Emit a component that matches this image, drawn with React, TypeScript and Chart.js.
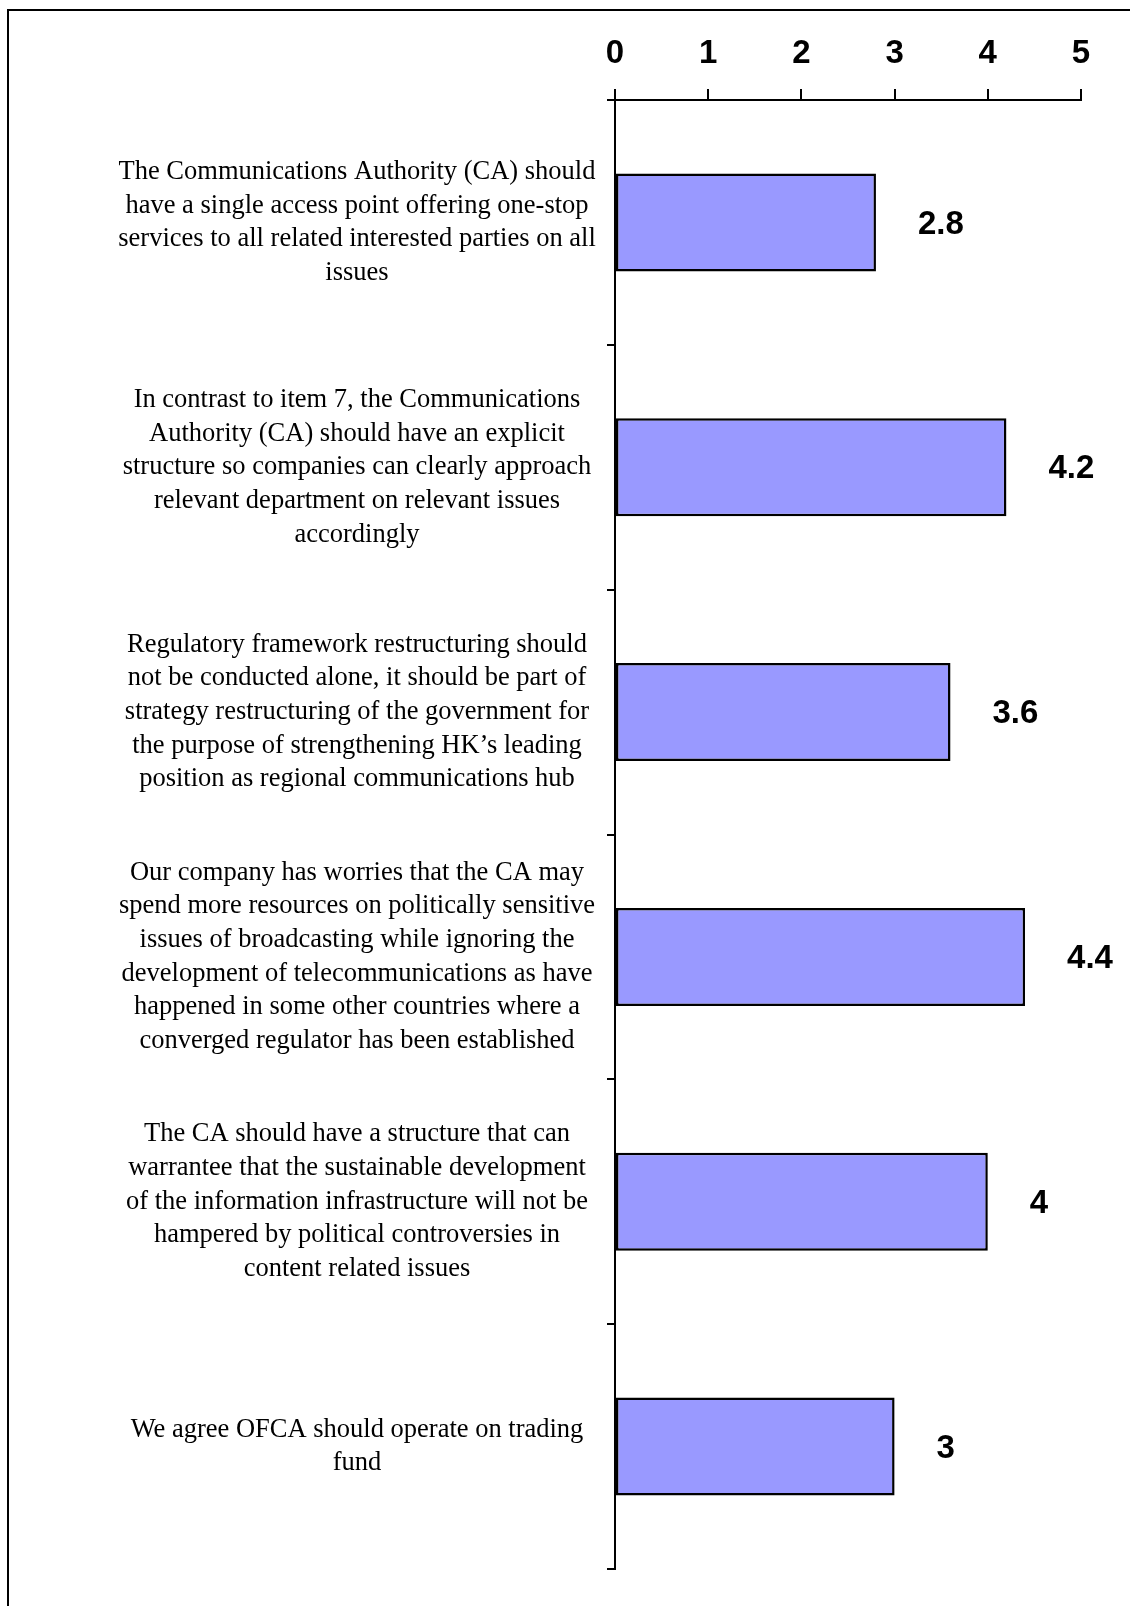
import React, { useEffect, useRef } from "react";
import { Chart, registerables } from "chart.js";

Chart.register(...registerables);

const categories: string[][] = [
  [
    "The Communications Authority (CA) should",
    "have a single access point offering one-stop",
    "services to all related interested parties on all",
    "issues",
  ],
  [
    "In contrast to item 7, the Communications",
    "Authority (CA) should have an explicit",
    "structure so companies can clearly approach",
    "relevant department on relevant issues",
    "accordingly",
  ],
  [
    "Regulatory framework restructuring should",
    "not be conducted alone, it should be part of",
    "strategy restructuring of the government for",
    "the purpose of strengthening HK\u2019s leading",
    "position as regional communications hub",
  ],
  [
    "Our company has worries that the CA may",
    "spend more resources on politically sensitive",
    "issues of broadcasting while ignoring the",
    "development of telecommunications as have",
    "happened in some other countries where a",
    "converged regulator has been established",
  ],
  [
    "The CA should have a structure that can",
    "warrantee that the sustainable development",
    "of the information infrastructure will not be",
    "hampered by political controversies in",
    "content related issues",
  ],
  ["We agree OFCA should operate on trading", "fund"],
];

const values: number[] = [2.8, 4.2, 3.6, 4.4, 4, 3];
const valueLabels: string[] = ["2.8", "4.2", "3.6", "4.4", "4", "3"];
const xMin = 0;
const xMax = 5;
const xStep = 1;

const SERIF = "'Liberation Serif', 'Times New Roman', serif";
const SANS = "'Liberation Sans', Arial, sans-serif";
const CAT_FONT_SIZE = 26.5;
const CAT_LINE_HEIGHT = 1.27;
const AXIS_LEFT = 615;
const LABEL_CENTER = 357;
const Y_TICK_LEN = 8;

export default function App() {
  const canvasRef = useRef<HTMLCanvasElement | null>(null);

  useEffect(() => {
    const canvas = canvasRef.current;
    if (!canvas) return;

    const mctx = document.createElement("canvas").getContext("2d")!;
    mctx.font = `normal ${CAT_FONT_SIZE}px ${SERIF}`;
    let widest = 0;
    categories.forEach((lines) =>
      lines.forEach((l) => {
        widest = Math.max(widest, mctx.measureText(l).width);
      })
    );
    const yPad = Math.max(0, AXIS_LEFT - Y_TICK_LEN - LABEL_CENTER - widest / 2);

    const framePlugin = {
      id: "frame",
      beforeDraw(chart: any) {
        const ctx = chart.ctx;
        ctx.save();
        ctx.fillStyle = "#ffffff";
        ctx.fillRect(0, 0, chart.width, chart.height);
        ctx.strokeStyle = "#000000";
        ctx.lineWidth = 2;
        ctx.strokeRect(8, 10, 3000, 3000);
        ctx.restore();
      },
    };

    const valueLabelPlugin = {
      id: "valueLabels",
      afterDatasetsDraw(chart: any) {
        const ctx = chart.ctx;
        const meta = chart.getDatasetMeta(0);
        ctx.save();
        ctx.font = `bold 33px ${SANS}`;
        ctx.fillStyle = "#000000";
        ctx.textAlign = "left";
        ctx.textBaseline = "middle";
        meta.data.forEach((bar: any, i: number) => {
          ctx.fillText(valueLabels[i], bar.x + 42, bar.y + 2);
        });
        ctx.restore();
      },
    };

    const chart = new Chart(canvas, {
      type: "bar",
      data: {
        labels: categories,
        datasets: [
          {
            data: values,
            backgroundColor: "#9999FF",
            borderColor: "#000000",
            borderWidth: 2.5,
            borderSkipped: false,
            categoryPercentage: 1,
            barPercentage: 0.4,
          },
        ],
      },
      options: {
        indexAxis: "y",
        responsive: false,
        animation: false,
        devicePixelRatio: 1,
        layout: { padding: { left: 0, top: 0, right: 49, bottom: 37 } },
        plugins: {
          legend: { display: false },
          tooltip: { enabled: false },
          title: { display: false },
        },
        scales: {
          x: {
            type: "linear",
            position: "top",
            min: xMin,
            max: xMax,
            ticks: {
              stepSize: xStep,
              color: "#000000",
              padding: 15,
              font: { family: SANS, size: 33, weight: "bold", lineHeight: 1.2 },
            },
            grid: {
              drawOnChartArea: false,
              drawTicks: true,
              tickLength: 11,
              color: "#000000",
              lineWidth: 2,
            },
            border: { display: true, color: "#000000", width: 2 },
            afterFit(scale: any) {
              scale.height = 100;
              scale.paddingLeft = 0;
              scale.paddingRight = 0;
            },
          },
          y: {
            type: "category",
            position: "left",
            offset: true,
            ticks: {
              color: "#000000",
              crossAlign: "center",
              padding: yPad,
              autoSkip: false,
              font: { family: SERIF, size: CAT_FONT_SIZE, lineHeight: CAT_LINE_HEIGHT },
            },
            grid: {
              offset: true,
              drawOnChartArea: false,
              drawTicks: true,
              tickLength: Y_TICK_LEN,
              color: "#000000",
              lineWidth: 2,
            },
            border: { display: true, color: "#000000", width: 2 },
            afterFit(scale: any) {
              scale.width = AXIS_LEFT;
              scale.paddingTop = 0;
              scale.paddingBottom = 0;
            },
          },
        },
      },
      plugins: [framePlugin, valueLabelPlugin],
    } as any);

    return () => {
      chart.destroy();
    };
  }, []);

  return (
    <div style={{ position: "absolute", left: 0, top: 0, width: 1130, height: 1606, background: "#fff" }}>
      <canvas ref={canvasRef} width={1130} height={1606} style={{ display: "block", width: 1130, height: 1606 }} />
    </div>
  );
}
